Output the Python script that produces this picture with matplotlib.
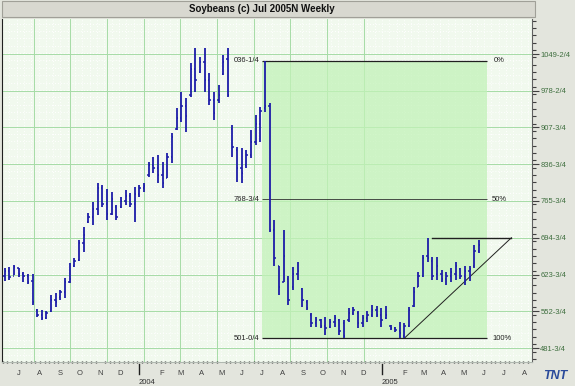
import numpy as np
import pandas as pd
import matplotlib
matplotlib.use("Agg")
import matplotlib.pyplot as plt
import matplotlib.dates as mdates
from matplotlib.patches import Rectangle
from matplotlib.transforms import blended_transform_factory

plt.rcParams['font.family'] = ['Liberation Sans', 'DejaVu Sans']

# weekly bars, Jul 2005 soybeans
first_week = '2003-06-13'
highs = [636, 638, 642, 636, 628, 625, 625, 558, 555, 553, 584, 588, 594, 617, 646, 655, 690, 715, 742, 764,
         800, 797, 789, 783, 758, 773, 787, 781, 793, 797, 800, 841, 851, 855, 841, 858, 897, 945, 976, 965,
         1032, 1061, 1044, 1061, 1013, 976, 990, 1047, 1061, 912, 870, 868, 865, 903, 932, 947, 1036.25, 955, 729, 640,
         710, 620, 638, 648, 598, 575, 549, 541, 538, 542, 538, 545, 538, 536, 559, 561, 553, 545, 553, 565,
         563, 559, 563, 526, 522, 532, 530, 561, 600, 628, 661, 694.75, 657, 657, 632, 628, 636, 648, 636, 640,
         640, 681, 690]
lows = [612, 613, 622, 618, 609, 605, 565, 541, 536, 538, 551, 561, 575, 578, 607, 638, 650, 667, 723, 720,
        738, 754, 729, 738, 729, 752, 758, 754, 725, 773, 783, 812, 820, 800, 791, 810, 839, 903, 918, 899,
        966, 976, 1013, 976, 951, 922, 955, 1009, 966, 851, 802, 800, 830, 849, 874, 880, 937, 705, 640, 584,
        609, 565, 594, 613, 561, 555, 522, 522, 520, 507, 520, 522, 507, 501, 532, 545, 520, 522, 532, 541,
        541, 522, 538, 516, 513, 501, 501, 522, 561, 600, 619, 648, 613, 613, 609, 603, 609, 613, 615, 603,
        611, 636, 665]
opens = [620, 630, 620, 636, 625, 620, 612, 555, 545, 540, 553, 575, 580, 590, 610, 640, 652, 685, 725, 735,
         750, 790, 760, 740, 755, 755, 765, 775, 760, 780, 790, 815, 835, 830, 815, 810, 850, 905, 925, 950,
         970, 1020, 1015, 1035, 1000, 960, 960, 1010, 1040, 905, 865, 830, 835, 855, 880, 915, 945, 950, 710, 640,
         610, 615, 600, 625, 595, 570, 545, 530, 535, 525, 522, 532, 535, 530, 535, 550, 550, 530, 540, 545,
         555, 545, 540, 524, 520, 515, 505, 525, 562, 600, 620, 660, 650, 625, 625, 615, 620, 625, 635, 620,
         630, 640, 670]
closes = [630, 618, 638, 625, 620, 610, 570, 545, 540, 550, 575, 570, 590, 610, 615, 650, 685, 700, 735, 750,
          790, 760, 740, 770, 735, 765, 775, 760, 780, 790, 795, 835, 830, 815, 800, 850, 890, 925, 950, 930,
          1020, 1000, 1035, 1000, 960, 935, 970, 1035, 970, 870, 830, 820, 855, 880, 915, 940, 950, 710, 655, 600,
          660, 575, 625, 630, 575, 560, 530, 535, 525, 520, 532, 540, 515, 505, 550, 555, 530, 540, 545, 555,
          545, 535, 545, 520, 516, 510, 525, 555, 590, 620, 655, 655, 620, 640, 615, 620, 628, 640, 620, 630,
          635, 670, 680]

price_ticks = [1049.5, 978.5, 907.75, 836.75, 765.75, 694.75, 623.75, 552.75, 481.75]
price_labels = ['1049-2/4', '978-2/4', '907-3/4', '836-3/4', '765-3/4', '694-3/4', '623-3/4', '552-3/4', '481-3/4']

month_letters = ['J', 'A', 'S', 'O', 'N', 'D', 'F', 'M', 'A', 'M', 'J', 'J', 'A', 'S', 'O', 'N', 'D',
                 'F', 'M', 'A', 'M', 'J', 'J', 'A']
month_starts = ['2003-07-01', '2003-08-01', '2003-09-01', '2003-10-01', '2003-11-01', '2003-12-01',
                '2004-02-01', '2004-03-01', '2004-04-01', '2004-05-01', '2004-06-01', '2004-07-01',
                '2004-08-01', '2004-09-01', '2004-10-01', '2004-11-01', '2004-12-01',
                '2005-02-01', '2005-03-01', '2005-04-01', '2005-05-01', '2005-06-01', '2005-07-01', '2005-08-01']
years = ['2004', '2005']
year_starts = ['2004-01-01', '2005-01-01']

# retracement box
retr_high = 1036.25
retr_low = 501.0
retr_mid = 768.75
retr_start = '2004-07-04'
retr_end = '2005-06-08'
# triangle
tri_low_date = '2005-02-04'
tri_top = 694.75
tri_top_start = '2005-03-18'
tri_end = '2005-07-15'

dates = pd.date_range(first_week, periods=len(highs), freq='7D')
x = mdates.date2num(dates)

fig = plt.figure(figsize=(5.75, 3.86), dpi=100)
fig.patch.set_facecolor('#e3e5dd')
ax = fig.add_axes([2 / 575, 24 / 386, 530 / 575, 343 / 386])
ax.set_facecolor('#f1f9ee')

x0 = mdates.date2num(pd.Timestamp('2003-06-09'))
x1 = mdates.date2num(pd.Timestamp('2005-08-15'))
ax.set_xlim(x0, x1)
ax.set_ylim(454.8, 1117.1)

# dotted background pattern
for yy in np.arange(454.8, 1117.1, 14.2):
    ax.axhline(yy, color='white', lw=0.7, ls=(0, (1, 2)), zorder=0)
for xx in np.arange(x0, x1, 11.0):
    ax.axvline(xx, color='white', lw=0.7, ls=(0, (1, 2)), zorder=0)

# main grid
grid_x0 = mdates.date2num(pd.Timestamp('2004-01-01')) - 158.3
for xx in grid_x0 + 55.18 * np.arange(-1, 10):
    ax.axvline(xx, color='#a6dca6', lw=0.7, zorder=1)
for yy in price_ticks:
    ax.axhline(yy, color='#a6dca6', lw=0.7, zorder=1)

# retracement area
rs = mdates.date2num(pd.Timestamp(retr_start))
re_ = mdates.date2num(pd.Timestamp(retr_end))
ax.add_patch(Rectangle((rs, retr_low), re_ - rs, retr_high - retr_low,
                       facecolor='#c2f2b8', alpha=0.75, edgecolor='none', zorder=1.5))
ax.hlines([retr_high, retr_low], rs, re_, color='#202020', lw=0.9, zorder=3)
ax.hlines(retr_mid, rs, re_, color='#303030', lw=0.6, zorder=3)
lab_kw = dict(fontsize=5.5, color='#222222', va='center', zorder=4)
ax.text(rs - 3, retr_high, '036-1/4', ha='right', **lab_kw)
ax.text(rs - 3, retr_mid, '768-3/4', ha='right', **lab_kw)
ax.text(rs - 3, retr_low, '501-0/4', ha='right', **lab_kw)
ax.text(re_ + 10, retr_high, '0%', ha='left', **lab_kw)
ax.text(re_ + 8, retr_mid, '50%', ha='left', **lab_kw)
ax.text(re_ + 8, retr_low, '100%', ha='left', **lab_kw)

# triangle lines
tl = mdates.date2num(pd.Timestamp(tri_low_date))
ts = mdates.date2num(pd.Timestamp(tri_top_start))
te = mdates.date2num(pd.Timestamp(tri_end))
ax.plot([tl, te], [retr_low, tri_top], color='#202020', lw=0.7, zorder=3)
ax.plot([ts, te], [tri_top, tri_top], color='#202020', lw=1.0, zorder=3)

# OHLC bars
bar_col = '#1c1ca8'
ax.vlines(x, lows, highs, color=bar_col, lw=1.3, zorder=5)
ax.hlines(opens, x - 2.0, x, color=bar_col, lw=1.1, zorder=5)
ax.hlines(closes, x, x + 2.0, color=bar_col, lw=1.1, zorder=5)

# axes styling
ax.spines['top'].set_visible(False)
ax.spines['left'].set_color('#202020')
ax.spines['right'].set_color('#606060')
ax.spines['bottom'].set_color('#b0b8b0')

ax.yaxis.tick_right()
ax.set_yticks(price_ticks)
ax.set_yticklabels(price_labels)
ax.set_yticks(np.arange(454.8 + 6, 1117.1, 14.2), minor=True)
ax.tick_params(axis='y', which='major', length=5, width=0.8, color='#404040',
               labelsize=5.5, labelcolor='#3f6f3f', pad=1)
ax.tick_params(axis='y', which='minor', length=3, width=0.8, color='#404040')

mpos = mdates.date2num(pd.to_datetime(month_starts)) + 3
ax.set_xticks(mpos)
ax.set_xticklabels(month_letters)
weeks = mdates.date2num(pd.date_range('2003-06-10', '2005-08-14', freq='7D'))
ax.set_xticks(weeks, minor=True)
ax.tick_params(axis='x', which='major', length=0, labelsize=5.5, labelcolor='#404040', pad=6)
ax.tick_params(axis='x', which='minor', length=1.5, width=1.0, color='#303030', direction='inout')

trans = blended_transform_factory(ax.transData, ax.transAxes)
for yr, ys in zip(years, year_starts):
    yx = mdates.date2num(pd.Timestamp(ys))
    ax.plot([yx, yx], [-0.005, -0.035], transform=trans, color='#202020', lw=1.0, clip_on=False)
    ax.text(yx, -0.05, yr, transform=trans, fontsize=5.5, color='#303030', ha='left', va='top')

# title bar
fig.patches.append(Rectangle((2 / 575, 369 / 386), 533 / 575, 16 / 386, transform=fig.transFigure,
                             facecolor='#d8d8d0', edgecolor='#a0a098', lw=0.8))
fig.text(262 / 575, 377 / 386, 'Soybeans (c) Jul 2005N Weekly', ha='center', va='center',
         fontsize=7, fontweight='bold', color='#111111')
fig.text(555 / 575, 10 / 386, 'TNT', ha='center', va='center', fontsize=9, fontweight='bold',
         style='italic', color='#2a4a9a')

fig.savefig('out.png', dpi=100)
